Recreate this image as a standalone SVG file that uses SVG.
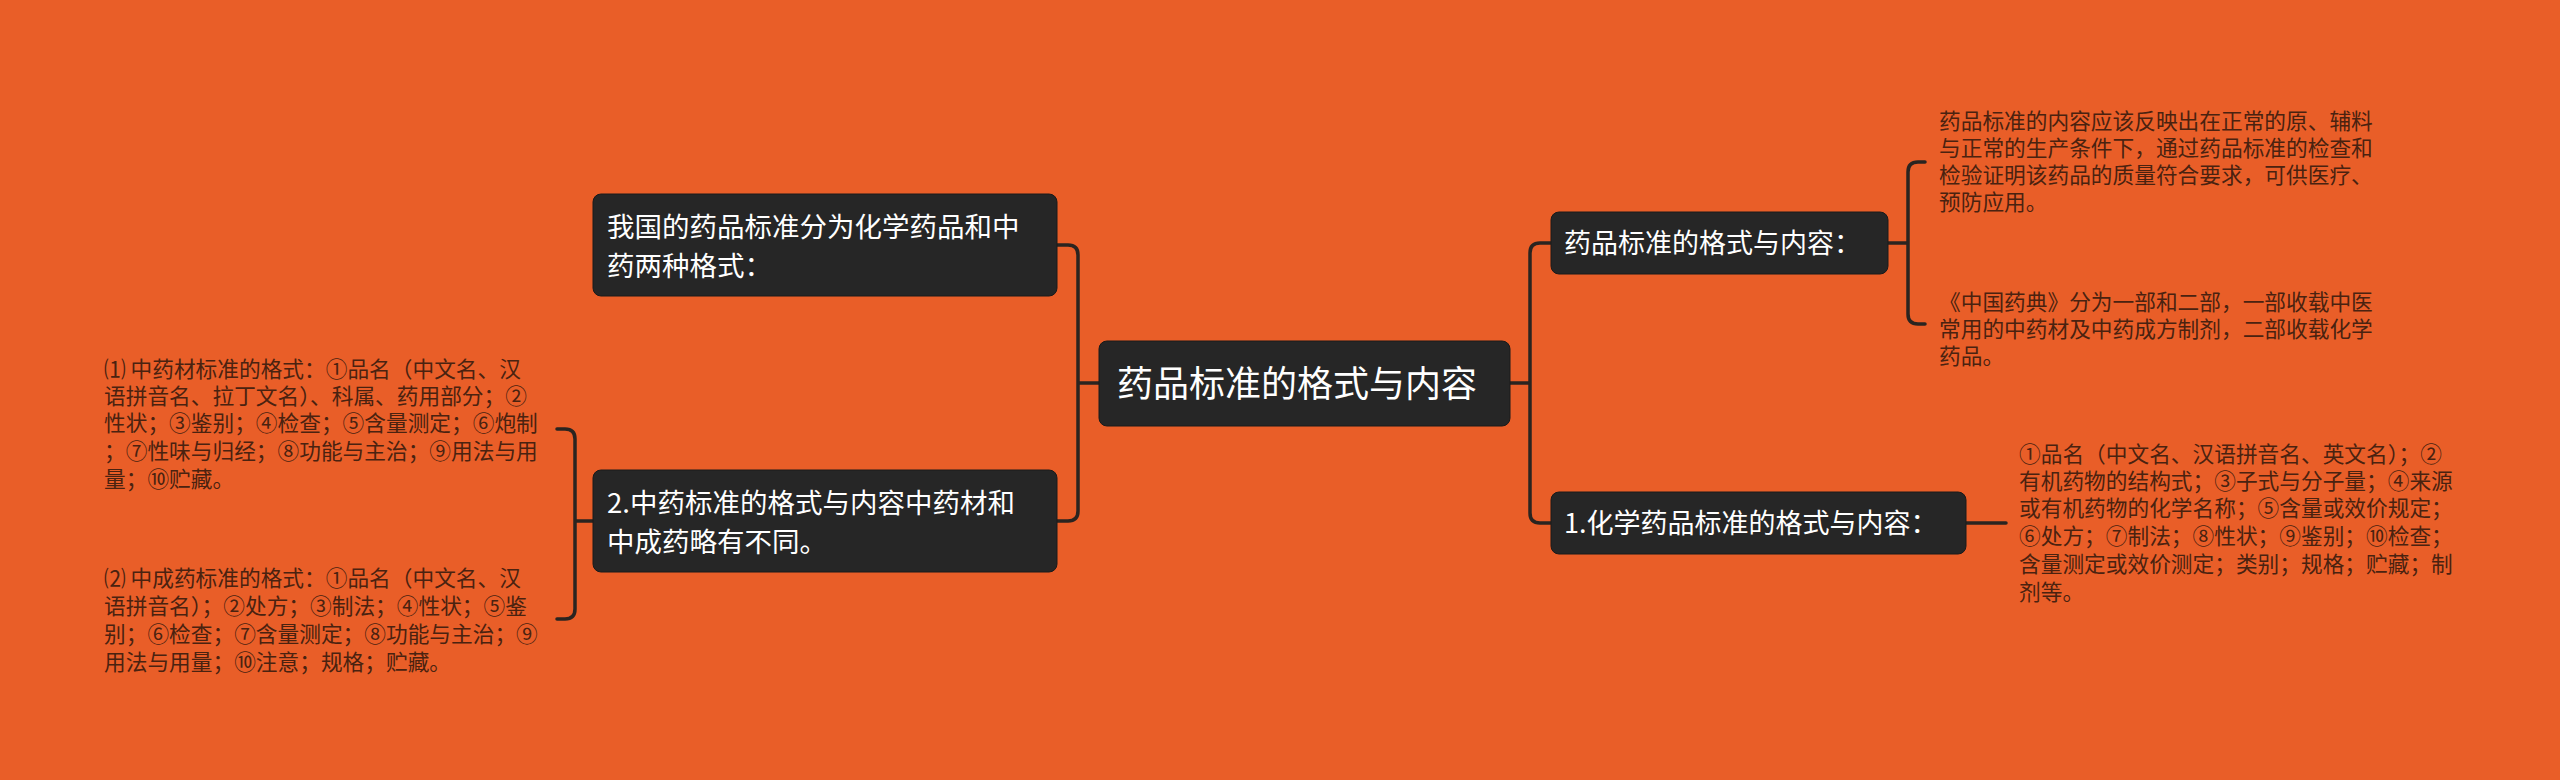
<svg xmlns="http://www.w3.org/2000/svg" width="2560" height="780" viewBox="0 0 2560 780">
<style>
.n{fill:#262626;stroke:#1a1a1a;stroke-width:1}
.t{font-family:"Noto Sans CJK SC","Noto Sans",sans-serif;fill:#ffffff}
.l{font-family:"Noto Sans CJK SC","Noto Sans",sans-serif;fill:#4a2210;font-size:21.7px}
.c{fill:none;stroke:#2a2420;stroke-width:3.5;stroke-linecap:round;stroke-linejoin:round}
</style>
<rect width="2560" height="780" fill="#E95E28"/>
<g id="connectors">
<path class="c" d="M1099 383 H1078 M1057 245 H1068 Q1078 245 1078 255 V511 Q1078 521 1068 521 H1057"/>
<path class="c" d="M1510 383 H1530 M1551 243 H1540 Q1530 243 1530 253 V513 Q1530 523 1540 523 H1551"/>
<path class="c" d="M1888 243 H1908 M1925 162 H1918 Q1908 162 1908 172 V314 Q1908 324 1918 324 H1925"/>
<path class="c" d="M1966 523 H2006"/>
<path class="c" d="M593 521 H575 M557 429 H565 Q575 429 575 439 V609 Q575 619 565 619 H557"/>
</g>
<g id="center"><rect class="n" x="1099" y="341" width="411" height="85" rx="8"/>
<text class="t" x="1117" y="397" font-size="36">药品标准的格式与内容</text></g>
<g id="left1"><rect class="n" x="593" y="194" width="464" height="102" rx="8"/>
<text class="t" font-size="27.5"><tspan x="607" y="237">我国的药品标准分为化学药品和中</tspan><tspan x="607" y="276">药两种格式：</tspan></text></g>
<g id="left2"><rect class="n" x="593" y="470" width="464" height="102" rx="8"/>
<text class="t" font-size="27.5"><tspan x="607" y="513">2.中药标准的格式与内容中药材和</tspan><tspan x="607" y="552">中成药略有不同。</tspan></text></g>
<g id="rightA"><rect class="n" x="1551" y="212" width="337" height="62" rx="8"/>
<text class="t" x="1564" y="253" font-size="27">药品标准的格式与内容：</text></g>
<g id="rightB"><rect class="n" x="1551" y="492" width="415" height="62" rx="8"/>
<text class="t" x="1564" y="533" font-size="27">1.化学药品标准的格式与内容：</text></g>
<g id="leafA1"><text class="l"><tspan x="1939" y="129">药品标准的内容应该反映出在正常的原、辅料</tspan><tspan x="1939" y="156">与正常的生产条件下，通过药品标准的检查和</tspan><tspan x="1939" y="183">检验证明该药品的质量符合要求，可供医疗、</tspan><tspan x="1939" y="210">预防应用。</tspan></text></g>
<g id="leafA2"><text class="l"><tspan x="1939" y="310">《中国药典》分为一部和二部，一部收载中医</tspan><tspan x="1939" y="337">常用的中药材及中药成方制剂，二部收载化学</tspan><tspan x="1939" y="364">药品。</tspan></text></g>
<g id="leafB"><text class="l"><tspan x="2019" y="462">①品名（中文名、汉语拼音名、英文名）；②</tspan><tspan x="2019" y="489">有机药物的结构式；③子式与分子量；④来源</tspan><tspan x="2019" y="516">或有机药物的化学名称；⑤含量或效价规定；</tspan><tspan x="2019" y="544">⑥处方；⑦制法；⑧性状；⑨鉴别；⑩检查；</tspan><tspan x="2019" y="572">含量测定或效价测定；类别；规格；贮藏；制</tspan><tspan x="2019" y="600">剂等。</tspan></text></g>
<g id="leafL1"><text class="l"><tspan x="104" y="377">⑴ 中药材标准的格式：①品名（中文名、汉</tspan><tspan x="104" y="404">语拼音名、拉丁文名）、科属、药用部分；②</tspan><tspan x="104" y="431">性状；③鉴别；④检查；⑤含量测定；⑥炮制</tspan><tspan x="104" y="459">；⑦性味与归经；⑧功能与主治；⑨用法与用</tspan><tspan x="104" y="487">量；⑩贮藏。</tspan></text></g>
<g id="leafL2"><text class="l"><tspan x="104" y="586">⑵ 中成药标准的格式：①品名（中文名、汉</tspan><tspan x="104" y="614">语拼音名）；②处方；③制法；④性状；⑤鉴</tspan><tspan x="104" y="642">别；⑥检查；⑦含量测定；⑧功能与主治；⑨</tspan><tspan x="104" y="670">用法与用量；⑩注意；规格；贮藏。</tspan></text></g>
</svg>
